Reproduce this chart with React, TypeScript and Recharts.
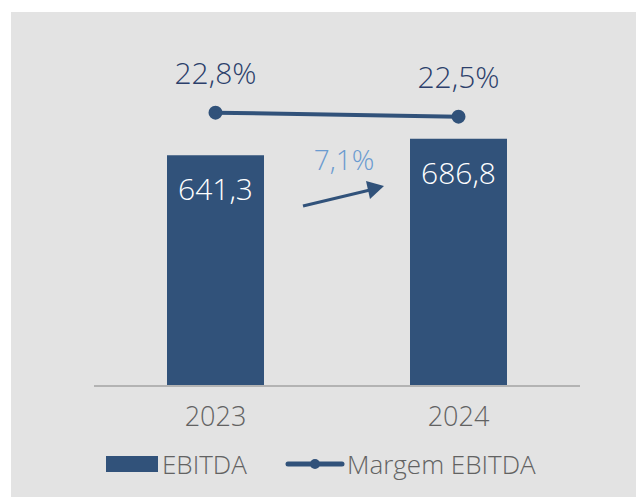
import React from "react";
import {
  ComposedChart,
  Bar,
  Line,
  XAxis,
  YAxis,
  Legend,
  LabelList,
} from "recharts";

const years = ["2023", "2024"];
const ebitda = [641.3, 686.8];
const margem = [22.8, 22.5];
const growthLabel = "7,1%";

const BAR = "#31527a";
const NAVY = "#2c3f6b";
const GRAY = "#626262";
const FONT = "'Open Sans', sans-serif";

const data = years.map((y, i) => ({ year: y, ebitda: ebitda[i], margem: margem[i] }));

const fmt = (v: number) => v.toFixed(1).replace(".", ",");

function LegendBox() {
  const txt = { position: "absolute" as const, top: 0, lineHeight: "26px", fontFamily: FONT, fontWeight: 300, fontSize: 26, color: GRAY };
  return (
    <div style={{ position: "relative", width: 644, height: 26 }}>
      <div style={{ position: "absolute", left: 106, top: 5, width: 52, height: 16, background: BAR }} />
      <span style={{ ...txt, left: 162 }}>EBITDA</span>
      <svg width={60} height={16} style={{ position: "absolute", left: 285, top: 5 }}>
        <line x1={3} y1={8} x2={57} y2={8} stroke={BAR} strokeWidth={5} strokeLinecap="round" />
        <circle cx={30} cy={8} r={5} fill={BAR} />
      </svg>
      <span style={{ ...txt, left: 347 }}>Margem EBITDA</span>
    </div>
  );
}

export default function App() {
  return (
    <div style={{ position: "relative", width: 644, height: 497, margin: "-8px 0 0 -8px", background: "#fff", overflow: "hidden" }}>
      <div style={{ position: "absolute", left: 11, top: 12, width: 633, height: 485, background: "#e3e3e3" }} />
      <div style={{ position: "absolute", left: 0, top: 0 }}>
        <ComposedChart width={644} height={497} data={data} margin={{ top: 26, right: 64, bottom: 81, left: 94 }} barCategoryGap="30%">
          <XAxis
            dataKey="year"
            height={30}
            axisLine={{ stroke: "#b3b3b3", strokeWidth: 2 }}
            tickLine={false}
            tick={{ fill: GRAY, fontSize: 27, fontFamily: FONT, fontWeight: 300 }}
            dy={13}
          />
          <YAxis yAxisId="left" hide domain={[0, 1000]} />
          <YAxis yAxisId="right" orientation="right" hide domain={[2.3, 29.3]} />
          <Bar yAxisId="left" dataKey="ebitda" fill={BAR} barSize={97} isAnimationActive={false}>
            <LabelList
              dataKey="ebitda"
              position="insideTop"
              offset={24}
              formatter={(v: number) => fmt(v)}
              style={{ fill: "#ffffff", fontSize: 30, fontFamily: FONT, fontWeight: 300 }}
            />
          </Bar>
          <Line
            yAxisId="right"
            dataKey="margem"
            stroke={BAR}
            strokeWidth={4}
            dot={{ r: 5, fill: BAR, stroke: BAR }}
            isAnimationActive={false}
          >
            <LabelList
              dataKey="margem"
              position="top"
              offset={29}
              formatter={(v: number) => fmt(v) + "%"}
              style={{ fill: NAVY, fontSize: 30, fontFamily: FONT, fontWeight: 300 }}
            />
          </Line>
          <Legend verticalAlign="middle" align="center" content={() => <LegendBox />} wrapperStyle={{ top: 451, left: 0, width: 644 }} />
        </ComposedChart>
      </div>
      <svg width={644} height={497} style={{ position: "absolute", left: 0, top: 0, pointerEvents: "none" }}>
        <text x={344} y={170} textAnchor="middle" fill="#6b9bd0" fontSize={28} fontFamily={FONT} fontWeight={300}>
          {growthLabel}
        </text>
        <line x1={303} y1={206} x2={370} y2={190} stroke={BAR} strokeWidth={3} />
        <polygon points="384,186 366,181 370,199" fill={BAR} />
      </svg>
    </div>
  );
}
